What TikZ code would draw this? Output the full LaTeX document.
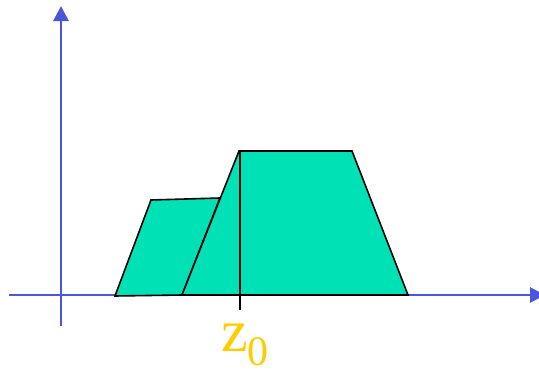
\documentclass[tikz,border=0pt]{standalone}
\usepackage{fontspec}
\setmainfont{Liberation Serif}
\usetikzlibrary{arrows.meta}
\definecolor{axisc}{RGB}{74,86,220}
\definecolor{areac}{RGB}{0,226,181}
\definecolor{labc}{RGB}{255,204,0}

\begin{document}
\begin{tikzpicture}[x=1pt, y=-1pt,
  ax/.style={axisc, line width=2.8pt, -{Triangle[length=15pt, width=15pt]}},
  area/.style={fill=areac, draw=black, line width=1.6pt, line join=miter},
  lab/.style={text=labc, inner sep=0pt, anchor=base west}]
\useasboundingbox (0,0) rectangle (539,372);
% axes
\draw[ax] (9,295) -- (545,295);
\draw[ax] (61,326) -- (61,6);
% fuzzy sets
\path[area] (115,296) -- (151,200) -- (220,198) -- (182,295) -- cycle;
\path[area] (182,295) -- (239,151) -- (352,151) -- (408,295) -- cycle;
\draw[black, line width=1.6pt] (240,151) -- (240,310);
\node[lab] (z0) at (221,351) {\fontsize{60}{60}\selectfont z\raisebox{-14pt}[0pt][0pt]{\fontsize{42}{42}\selectfont 0}};
\end{tikzpicture}
\end{document}
